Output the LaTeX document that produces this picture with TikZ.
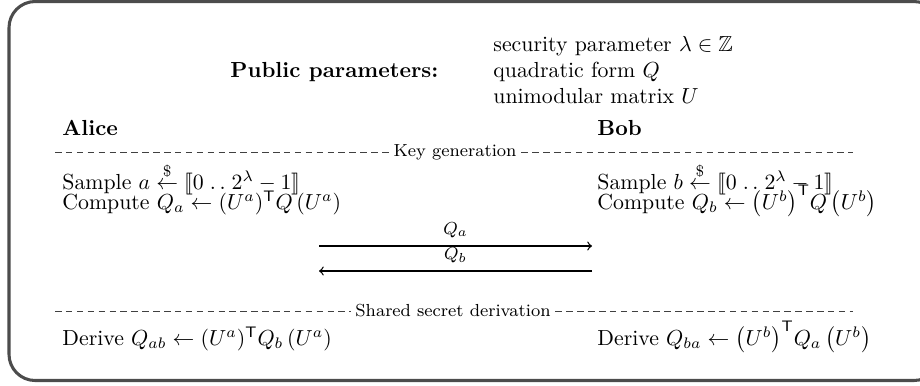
\documentclass[tikz,border=0pt]{standalone}
\usepackage{amsmath,amssymb,stmaryrd}
\begin{document}
\begin{tikzpicture}[x=0.4587pt,y=-0.4587pt,
  txt/.style={anchor=base west,inner sep=0pt},
  phase/.style={font=\footnotesize,inner xsep=2pt,inner ysep=0pt},
  sepline/.style={black!75,dash pattern=on 3pt off 2pt},
  msg/.style={semithick}]
  \useasboundingbox (0,0) rectangle (920,385);
  \draw[line width=1.4pt,black!70,rounded corners=12pt] (9,1.5) rectangle (940,380.5);

  \path
  (55,152) coordinate (L1)
  (853,152) coordinate (R1)
  (55,311) coordinate (L2)
  (853,311) coordinate (R2)
  (319,246) coordinate (A1)
  (592,246) coordinate (B1)
  (319,271) coordinate (A2)
  (592,271) coordinate (B2);

  % public parameters
  \node[txt,font=\bfseries] (pp) at (230,77) {Public parameters:};
  \node[txt] (sp) at (493,51) {security parameter $\lambda\in\mathbb{Z}$};
  \node[txt] (qf) at (493,77) {quadratic form $Q$};
  \node[txt] (um) at (493,103) {unimodular matrix $U$};

  \node[txt,font=\bfseries] (alice) at (62,135) {Alice};
  \node[txt,font=\bfseries] (bob) at (597,135) {Bob};

  \node[phase] (kg) at (455,152) {Key generation};
  \draw[sepline] (L1) -- (kg.west);
  \draw[sepline] (kg.east) -- (R1);

  \node[txt] (sa) at (62,189) {Sample $a\overset{\$}{\leftarrow}\llbracket 0\mathrel{.\,.}2^\lambda-1\rrbracket$};
  \node[txt] (ca) at (62,209) {Compute $Q_a\leftarrow(U^a)^{\mathsf{T}}Q\,(U^a)$};
  \node[txt] (sb) at (597,189) {Sample $b\overset{\$}{\leftarrow}\llbracket 0\mathrel{.\,.}2^\lambda-1\rrbracket$};
  \node[txt] (cb) at (597,209) {Compute $Q_b\leftarrow\bigl(U^b\bigr)^{\mathsf{T}}Q\,\bigl(U^b\bigr)$};

  \draw[msg,->] (A1) -- (B1) node[midway,above,font=\footnotesize] (qa) {$Q_a$};
  \draw[msg,->] (B2) -- (A2) node[midway,above,font=\footnotesize] (qb) {$Q_b$};

  \node[phase] (ss) at (453,311) {Shared secret derivation};
  \draw[sepline] (L2) -- (ss.west);
  \draw[sepline] (ss.east) -- (R2);

  \node[txt] (da) at (62,345) {Derive $Q_{ab}\leftarrow(U^a)^{\mathsf{T}}Q_b\,(U^a)$};
  \node[txt] (db) at (597,345) {Derive $Q_{ba}\leftarrow\bigl(U^b\bigr)^{\mathsf{T}}Q_a\,\bigl(U^b\bigr)$};
\end{tikzpicture}
\end{document}
